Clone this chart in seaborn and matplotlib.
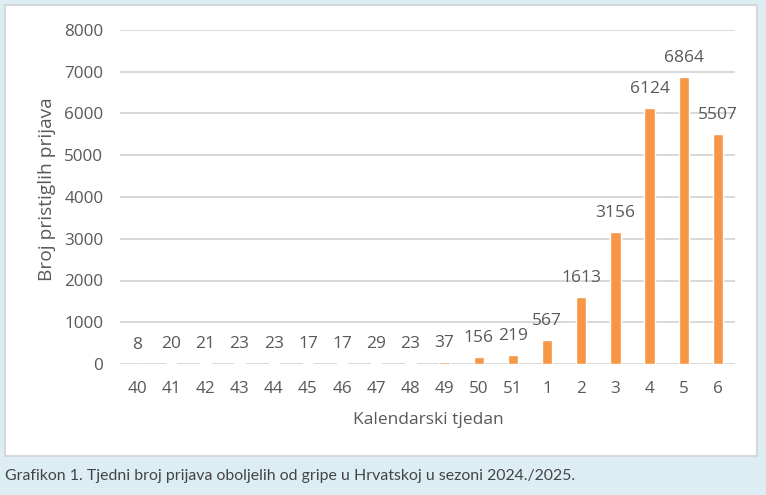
import matplotlib
matplotlib.use("Agg")
import matplotlib.pyplot as plt
import seaborn as sns
import pandas as pd
from matplotlib.patches import Rectangle

weeks = ["40", "41", "42", "43", "44", "45", "46", "47", "48", "49", "50", "51",
         "1", "2", "3", "4", "5", "6"]
counts = [8, 20, 21, 23, 23, 17, 17, 29, 23, 37, 156, 219, 567, 1613, 3156, 6124, 6864, 5507]
yticks = [0, 1000, 2000, 3000, 4000, 5000, 6000, 7000, 8000]

sns.set_theme(style="white")
plt.rcParams['font.family'] = ['Open Sans', 'DejaVu Sans']

W, H = 766, 495
fig = plt.figure(figsize=(W / 100, H / 100), dpi=100)
fig.patch.set_facecolor("#dcedf3")
fig.patches.append(Rectangle((5 / W, 1 - 456 / H), 752 / W, 451 / H, transform=fig.transFigure,
                             facecolor="white", edgecolor="#d4d8da", linewidth=1.5, zorder=-5))

ax = fig.add_axes([120 / W, 1 - 364 / H, 615 / W, 334 / H])
ax.set_zorder(2)
ax.set_facecolor("none")
df = pd.DataFrame({"week": weeks, "count": counts})
sns.barplot(data=df, x="week", y="count", ax=ax, color="#f79646", saturation=1, width=0.3, zorder=3)

grey = "#595959"
ax.set_ylim(0, 8000)
ax.set_yticks(yticks)
ax.set_yticklabels([str(v) for v in yticks], fontsize=12.3, color=grey)
ax.grid(axis="y", color="#d9d9d9", linewidth=1.4, zorder=0)
ax.set_axisbelow(True)
for s in ax.spines.values():
    s.set_visible(False)
ax.tick_params(axis="x", length=0, pad=12)
ax.tick_params(axis="y", length=0, pad=12)
for lab in ax.get_xticklabels():
    lab.set_fontsize(12.3)
    lab.set_color(grey)
ax.set_xlim(-0.5, len(weeks) - 0.5)

for i, v in enumerate(counts):
    ax.annotate(str(v), (i, v), xytext=(0, 8), textcoords="offset points",
                ha="center", va="bottom", fontsize=12.5, color=grey)

ax.set_xlabel("")
ax.set_ylabel("")
fig.text(428 / W, 1 - 420 / H, "Kalendarski tjedan", ha="center", va="center", fontsize=12.5, color=grey)
fig.text(47 / W, 1 - 189 / H, "Broj pristiglih prijava", ha="center", va="center",
         rotation=90, fontsize=13.8, color=grey)

fig.text(5 / W, 1 - 476 / H, "Grafikon 1. Tjedni broj prijava oboljelih od gripe u Hrvatskoj u sezoni 2024./2025.",
         ha="left", va="center", fontsize=11.4, color="#444444", family=["Lato", "DejaVu Sans"])

fig.savefig("out.png", dpi=100, facecolor=fig.get_facecolor())
